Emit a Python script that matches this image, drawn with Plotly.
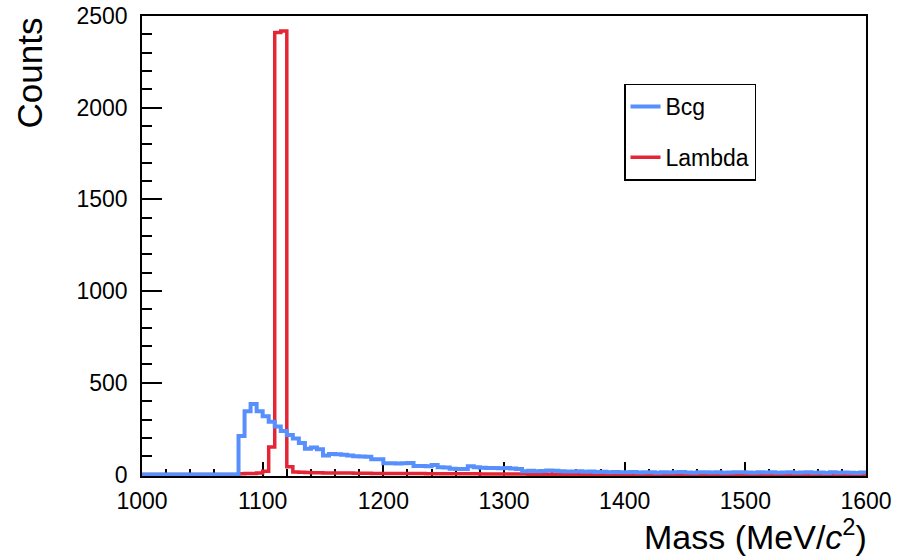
import numpy as np
import plotly.graph_objects as go

# ---- data (5 MeV bins from 1000 to 1600) ----
bin_low = 1000
bin_high = 1600
bin_width = 5

bcg_counts = [
    0, 0, 0, 0, 0, 0, 0, 0, 0, 0, 0, 0, 0, 0, 0, 0,
    210, 345, 385, 345, 318, 288, 262, 238, 215, 197, 172, 140,
    148, 138, 104, 112, 110, 108, 104, 100, 98, 97, 83, 83,
    62, 61, 60, 61, 63, 47, 46, 45, 52, 40, 39, 32,
    30, 30, 45, 40, 37, 35, 36, 34, 35, 33, 30, 18,
    20, 18, 19, 22, 20, 18, 17, 16, 18, 15, 16, 14,
    15, 13, 14, 12,
    12, 14, 11, 13, 12, 10, 13, 11, 12, 14, 11, 10, 12, 13, 11, 12, 10, 11, 13, 12,
    11, 10, 12, 11, 13, 10, 11, 12, 10, 11, 12, 10, 11, 9, 12, 10, 11, 10, 9, 11,
]

lambda_counts = [
    0, 0, 0, 0, 0, 0, 0, 0, 0, 0, 0, 0, 0, 0, 0, 0,
    4, 5, 6, 8, 18, 150, 2410, 2418, 42, 14, 12, 11,
    10, 10, 9, 9, 8, 8, 8, 7, 7, 7, 6, 6,
    6, 6, 5, 5, 5, 5, 5, 4, 4, 4, 4, 4,
    4, 4, 4, 4, 3, 3, 3, 3, 3, 3, 3, 3,
    2, 2, 2, 2, 2, 2, 2, 2, 2, 2, 1, 1,
    1, 1, 1, 1,
    1, 1, 1, 1, 1, 1, 1, 1, 1, 1, 0, 1, 0, 1, 0, 0, 1, 0, 0, 0,
    0, 0, 0, 0, 0, 0, 0, 0, 0, 0, 0, 0, 0, 0, 0, 0, 0, 0, 0, 0,
]

x_ticks = [1000, 1100, 1200, 1300, 1400, 1500, 1600]
y_ticks = [0, 500, 1000, 1500, 2000, 2500]

series_names = ["Bcg", "Lambda"]
series_colors = ["#5790fc", "#e42536"]

edges = np.arange(bin_low, bin_high + bin_width, bin_width)

FONT = "Liberation Sans, Arial, Helvetica, sans-serif"


def step_y(vals):
    return list(vals) + [vals[-1]]


fig = go.Figure()

# Lambda drawn first (under), Bcg on top
fig.add_trace(go.Scatter(
    x=edges, y=step_y(lambda_counts), mode="lines", line_shape="hv",
    line=dict(color=series_colors[1], width=3.5),
    name=series_names[1], legendgroup="b", legendrank=2,
))
fig.add_trace(go.Scatter(
    x=edges, y=step_y(bcg_counts), mode="lines", line_shape="hv",
    line=dict(color=series_colors[0], width=4),
    name=series_names[0], legendgroup="a", legendrank=1,
))

axis_common = dict(
    showline=True, linecolor="black", linewidth=1.5, mirror=True,
    showgrid=False, zeroline=False, ticks="inside", tickcolor="black",
    tickwidth=1.5, tickfont=dict(family=FONT, size=23, color="black"),
    layer="below traces", automargin=False,
)

fig.update_xaxes(
    range=[bin_low, bin_high], tickvals=x_ticks, ticklen=14,
    minor=dict(dtick=20, ticks="inside", ticklen=7, tickwidth=1.5, tickcolor="black"),
    ticklabelstandoff=4,
    **axis_common,
)
fig.update_yaxes(
    range=[-8, 2500], tickvals=y_ticks, ticklen=20,
    minor=dict(dtick=100, ticks="inside", ticklen=10, tickwidth=1.5, tickcolor="black"),
    ticklabelstandoff=8,
    **axis_common,
)

fig.add_annotation(
    text="Counts", xref="paper", yref="paper",
    x=(29 - 142) / 724, y=1.0, xanchor="center", yanchor="top",
    textangle=-90, showarrow=False,
    font=dict(family=FONT, size=35, color="black"),
)
fig.add_annotation(
    text="Mass (MeV/<i>c</i><sup>2</sup>)", xref="paper", yref="paper",
    x=(869 - 142) / 724, y=(474.5 - 533) / 460, xanchor="right", yanchor="middle",
    showarrow=False,
    font=dict(family=FONT, size=34, color="black"),
)

fig.update_layout(
    width=897, height=559,
    margin=dict(l=142, r=31, t=16, b=83, autoexpand=False),
    paper_bgcolor="white", plot_bgcolor="white",
    showlegend=True,
    legend=dict(
        x=(624 - 142) / 724, y=(474.5 - 82) / 460, xanchor="left", yanchor="top",
        bgcolor="white", bordercolor="black", borderwidth=1.5,
        font=dict(family=FONT, size=23, color="black"),
        tracegroupgap=18, entrywidth=135, entrywidthmode="pixels",
    ),
)

fig.write_html("out.html")
